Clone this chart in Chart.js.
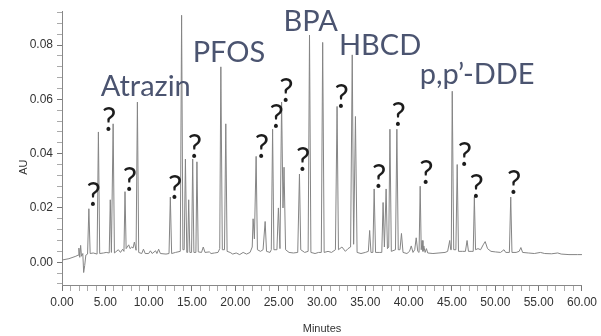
<!DOCTYPE html>
<html>
<head>
<meta charset="utf-8">
<script src="https://cdn.jsdelivr.net/npm/chart.js@4"></script>
<style>
  html, body { margin: 0; padding: 0; background: #fff; }
  #wrap { width: 601px; height: 336px; }
</style>
</head>
<body>
<div id="wrap"><canvas id="chrom"></canvas></div>
<script>
// retention time (min) and absorbance (AU)
const traceMin = [
  0.00, 0.80, 1.60, 1.85, 1.95, 2.05, 2.15, 2.25, 2.40, 2.50, 2.62, 2.75, 2.95, 3.10, 3.25, 3.60,
  4.05, 4.20, 4.35, 4.80, 5.10, 5.45, 5.57, 5.70, 5.90, 6.05, 6.50, 6.75, 7.00, 7.15, 7.27, 7.40,
  7.70, 7.85, 8.05, 8.20, 8.35, 8.55, 8.70, 8.85, 9.20, 9.40, 9.60, 10.00, 10.20, 10.40, 10.80, 10.95,
  11.15, 11.35, 12.00, 12.35, 12.50, 12.65, 13.10, 13.65, 13.80, 13.95, 14.10, 14.24, 14.40, 14.50,
  14.62, 14.75, 14.95, 15.08, 15.22, 15.45, 15.57, 15.72, 16.10, 16.30, 16.50, 17.00, 17.20, 17.60,
  18.00, 18.20, 18.33, 18.50, 18.75, 18.90, 19.05, 19.40, 19.70, 20.10, 20.50, 20.90, 21.30, 21.70,
  21.95, 22.05, 22.20, 22.40, 22.55, 22.90, 23.20, 23.44, 23.60, 24.00, 24.15, 24.30, 24.45, 24.80,
  24.97, 25.15, 25.34, 25.50, 25.62, 25.80, 26.20, 26.70, 27.20, 27.40, 27.55, 28.00, 28.40, 28.56,
  28.72, 29.20, 29.60, 29.92, 30.08, 30.25, 30.70, 31.10, 31.55, 31.74, 31.90, 32.30, 32.70, 33.00,
  33.30, 33.49, 33.65, 33.86, 34.05, 34.50, 35.00, 35.35, 35.50, 35.65, 35.87, 36.02, 36.18, 36.60,
  36.90, 37.05, 37.20, 37.40, 37.55, 37.70, 37.84, 38.00, 38.48, 38.64, 38.80, 39.00, 39.17, 39.35,
  39.80, 40.10, 40.30, 40.50, 40.70, 40.87, 41.05, 41.20, 41.33, 41.45, 41.55, 41.65, 41.75, 41.90,
  42.05, 42.20, 42.80, 43.50, 44.20, 44.50, 44.74, 44.85, 44.92, 45.03, 45.20, 45.45, 45.60, 45.75,
  46.20, 46.55, 46.74, 46.90, 47.20, 47.45, 47.58, 47.72, 48.00, 48.30, 48.60, 48.83, 49.10, 49.50,
  50.00, 50.60, 51.00, 51.20, 51.62, 51.78, 51.92, 52.40, 52.75, 52.95, 53.15, 53.80, 54.50, 55.20,
  55.70, 56.50, 57.20, 57.60, 58.50, 59.50, 60.00
];
const traceAU = [
  0.0008, 0.0013, 0.0022, 0.0026, 0.0052, 0.0018, 0.0062, 0.0022, 0.0032, -0.0038, -0.0012, 0.0026, 0.0030, 0.0197, 0.0032, 0.0034,
  0.0030, 0.0480, 0.0032, 0.0034, 0.0036, 0.0034, 0.0230, 0.0036, 0.0510, 0.0034, 0.0046, 0.0036, 0.0048, 0.0040, 0.0260, 0.0050,
  0.0064, 0.0050, 0.0056, 0.0052, 0.0074, 0.0044, 0.0590, 0.0036, 0.0032, 0.0048, 0.0032, 0.0032, 0.0042, 0.0032, 0.0042, 0.0032,
  0.0048, 0.0032, 0.0030, 0.0032, 0.0240, 0.0032, 0.0036, 0.0040, 0.0910, 0.0046, 0.0046, 0.0380, 0.0036, 0.0036,
  0.0230, 0.0036, 0.0036, 0.0380, 0.0036, 0.0036, 0.0370, 0.0038, 0.0036, 0.0056, 0.0036, 0.0038, 0.0032, 0.0034,
  0.0036, 0.0050, 0.0720, 0.0046, 0.0046, 0.0510, 0.0040, 0.0036, 0.0030, 0.0034, 0.0028, 0.0036, 0.0030, 0.0036,
  0.0056, 0.0160, 0.0086, 0.0390, 0.0046, 0.0040, 0.0046, 0.0150, 0.0040, 0.0036, 0.0046, 0.0490, 0.0046, 0.0046,
  0.0200, 0.0050, 0.0590, 0.0200, 0.0350, 0.0046, 0.0036, 0.0034, 0.0036, 0.0325, 0.0046, 0.0036, 0.0040, 0.0837,
  0.0036, 0.0032, 0.0036, 0.0036, 0.0810, 0.0036, 0.0040, 0.0036, 0.0046, 0.0574, 0.0046, 0.0056, 0.0040, 0.0050,
  0.0056, 0.0764, 0.0066, 0.0537, 0.0036, 0.0032, 0.0036, 0.0040, 0.0117, 0.0036, 0.0036, 0.0270, 0.0036, 0.0036,
  0.0036, 0.0220, 0.0056, 0.0270, 0.0050, 0.0056, 0.0490, 0.0040, 0.0046, 0.0490, 0.0046, 0.0046, 0.0106, 0.0036,
  0.0032, 0.0040, 0.0060, 0.0036, 0.0046, 0.0090, 0.0040, 0.0036, 0.0280, 0.0046, 0.0080, 0.0040, 0.0060, 0.0036,
  0.0050, 0.0034, 0.0032, 0.0034, 0.0036, 0.0040, 0.0080, 0.0046, 0.0046, 0.0630, 0.0046, 0.0046, 0.0360, 0.0040,
  0.0040, 0.0040, 0.0080, 0.0040, 0.0040, 0.0040, 0.0240, 0.0046, 0.0050, 0.0046, 0.0064, 0.0076, 0.0050, 0.0040,
  0.0038, 0.0036, 0.0046, 0.0036, 0.0036, 0.0240, 0.0036, 0.0036, 0.0040, 0.0054, 0.0036, 0.0034, 0.0032, 0.0036,
  0.0032, 0.0031, 0.0034, 0.0030, 0.0028, 0.0028, 0.0028
];

// axis ticks
const xMajor = [0, 5, 10, 15, 20, 25, 30, 35, 40, 45, 50, 55, 60];
const xTickLabels = ["0.00", "5.00", "10.00", "15.00", "20.00", "25.00", "30.00", "35.00", "40.00", "45.00", "50.00", "55.00", "60.00"];
const yMajor = [0, 0.02, 0.04, 0.06, 0.08];
const yTickLabels = ["0.00", "0.02", "0.04", "0.06", "0.08"];

// compound names written over the trace (minutes, AU of text baseline)
const compoundNames = ["Atrazin", "PFOS", "BPA", "HBCD", "p,p\u2019-DDE"];
const compoundMin = [9.66, 19.26, 28.7, 36.7, 47.9];
const compoundAU = [0.0611, 0.0739, 0.0852, 0.0764, 0.0658];

// unknown peaks marked with "?"
const unknownMin = [3.64, 5.45, 7.84, 13.07, 15.34, 23.07, 24.77, 25.9, 27.84, 32.27, 36.6, 38.86, 42.05, 46.48, 47.84, 52.16];
const unknownAU = [0.0208, 0.0483, 0.0263, 0.0234, 0.0384, 0.0384, 0.0494, 0.0592, 0.0336, 0.0567, 0.0274, 0.0501, 0.0289, 0.0355, 0.0238, 0.0252];

const tickFont = { family: "'Liberation Sans Narrow', 'Arial Narrow', 'Liberation Sans', sans-serif", size: 12 };

const annotate = {
    id: "annotate",
    afterDatasetsDraw(chart) {
        const { ctx, scales: { x, y }, chartArea } = chart;
        ctx.save();
        ctx.textAlign = "center";
        ctx.textBaseline = "alphabetic";

        ctx.fillStyle = "#4b5470";
        ctx.font = "29px Lato, 'Open Sans', sans-serif";
        compoundNames.forEach((name, i) => {
            ctx.fillText(name, x.getPixelForValue(compoundMin[i]), y.getPixelForValue(compoundAU[i]));
        });

        ctx.fillStyle = "#1c1c1c";
        ctx.font = "32px Lato, 'Open Sans', sans-serif";
        unknownMin.forEach((t, i) => {
            ctx.fillText("?", x.getPixelForValue(t), y.getPixelForValue(unknownAU[i]));
        });

        // y axis title
        ctx.fillStyle = "#333";
        ctx.font = "11px " + tickFont.family;
        ctx.translate(chartArea.left - 38, y.getPixelForValue(0.035));
        ctx.rotate(-Math.PI / 2);
        ctx.textBaseline = "middle";
        ctx.fillText("AU", 0, 0);
        ctx.restore();
    }
};

new Chart(document.getElementById("chrom").getContext("2d"), {
    type: "line",
    data: {
        datasets: [{
            data: traceMin.map((t, i) => ({ x: t, y: traceAU[i] })),
            borderColor: "#858585",
            borderWidth: 1,
            pointRadius: 0,
            tension: 0,
            fill: false
        }]
    },
    options: {
        responsive: true,
        maintainAspectRatio: false,
        animation: false,
        parsing: false,
        layout: { padding: { top: 9, right: 11, left: 0, bottom: 0 } },
        plugins: { legend: { display: false }, tooltip: { enabled: false } },
        scales: {
            x: {
                type: "linear",
                min: 0,
                max: 60,
                afterBuildTicks: scale => {
                    const ticks = [];
                    for (let m = 0; m <= 60; m++) ticks.push({ value: m });
                    scale.ticks = ticks;
                },
                afterFit: scale => { scale.height = 51; },
                ticks: {
                    autoSkip: false,
                    maxRotation: 0,
                    padding: 4,
                    color: "#333",
                    font: tickFont,
                    callback: v => {
                        const i = xMajor.indexOf(Math.round(v * 1000) / 1000);
                        return i >= 0 ? xTickLabels[i] : "";
                    }
                },
                grid: {
                    drawOnChartArea: false,
                    tickLength: 6,
                    tickColor: c => (c.tick && c.tick.value % 5 === 0) ? "#777" : "#aaa"
                },
                border: { color: "#888" },
                title: {
                    display: true,
                    text: "Minutes",
                    color: "#333",
                    font: { family: tickFont.family, size: 11 },
                    padding: { top: 6, bottom: 0 }
                }
            },
            y: {
                min: -0.0084,
                max: 0.0925,
                afterBuildTicks: scale => {
                    const ticks = [];
                    for (let k = -2; k <= 23; k++) ticks.push({ value: Math.round(k * 4) / 1000 });
                    scale.ticks = ticks;
                },
                afterFit: scale => { scale.width = 62; },
                ticks: {
                    autoSkip: false,
                    padding: 4,
                    color: "#333",
                    font: tickFont,
                    callback: v => {
                        const i = yMajor.findIndex(m => Math.abs(m - v) < 1e-6);
                        return i >= 0 ? yTickLabels[i] : "";
                    }
                },
                grid: {
                    drawOnChartArea: false,
                    tickLength: 5,
                    tickColor: c => (c.tick && Math.abs(c.tick.value * 50 - Math.round(c.tick.value * 50)) < 1e-6) ? "#777" : "#aaa"
                },
                border: { color: "#888" }
            }
        }
    },
    plugins: [annotate]
});
</script>
</body>
</html>
